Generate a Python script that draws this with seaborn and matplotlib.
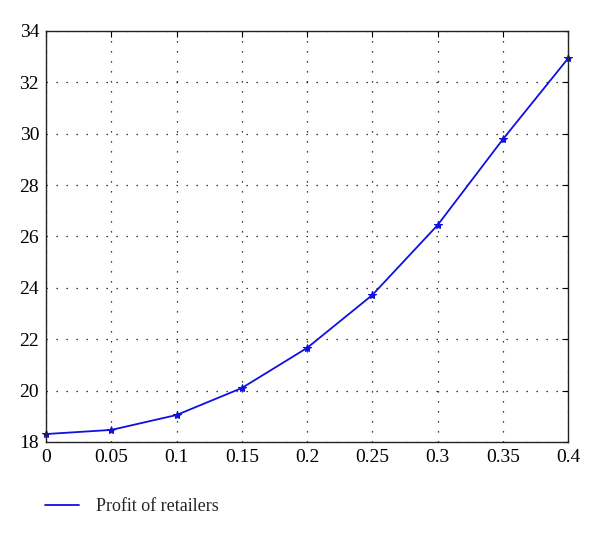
import matplotlib
matplotlib.use("Agg")
import matplotlib.pyplot as plt
import seaborn as sns
import pandas as pd
from matplotlib.lines import Line2D

x_vals = [0, 0.05, 0.1, 0.15, 0.2, 0.25, 0.3, 0.35, 0.4]
profit = [18.31, 18.47, 19.05, 20.1, 21.66, 23.72, 26.44, 29.78, 32.93]
x_ticks = [0, 0.05, 0.1, 0.15, 0.2, 0.25, 0.3, 0.35, 0.4]
x_tick_labels = ["0", "0.05", "0.1", "0.15", "0.2", "0.25", "0.3", "0.35", "0.4"]
y_ticks = [18, 20, 22, 24, 26, 28, 30, 32, 34]
series_name = "Profit of retailers"

df = pd.DataFrame({"x": x_vals, "y": profit})

sns.set_style("white")
plt.rcParams["font.family"] = ["Liberation Serif", "DejaVu Serif"]

fig = plt.figure(figsize=(6, 5.41), dpi=100)
ax = fig.add_axes([0.0767, 0.183, 0.87, 0.7597])

sns.lineplot(data=df, x="x", y="y", ax=ax, color="#1010e0", lw=1.3,
             marker="*", markersize=6, markeredgecolor="#1010e0",
             legend=False, clip_on=False)

ax.set_xlim(0, 0.4)
ax.set_ylim(18, 34)
ax.set_xticks(x_ticks)
ax.set_xticklabels(x_tick_labels)
ax.set_yticks(y_ticks)
ax.set_xlabel("")
ax.set_ylabel("")
ax.grid(True, color="black", linestyle=(0, (1, 7)), linewidth=0.9)
ax.tick_params(direction="in", top=True, right=True, length=4, width=0.8,
               labelsize=14, colors="black", pad=5)
for s in ax.spines.values():
    s.set_visible(True)
    s.set_color("#222222")
    s.set_linewidth(1.0)

h = [Line2D([0], [0], color="#1010e0", lw=1.3)]
fig.legend(h, [series_name], loc="center left", bbox_to_anchor=(0.048, 0.063),
           frameon=False, fontsize=13, handlelength=1.9, handletextpad=0.9)

fig.savefig("out.png", dpi=100)
